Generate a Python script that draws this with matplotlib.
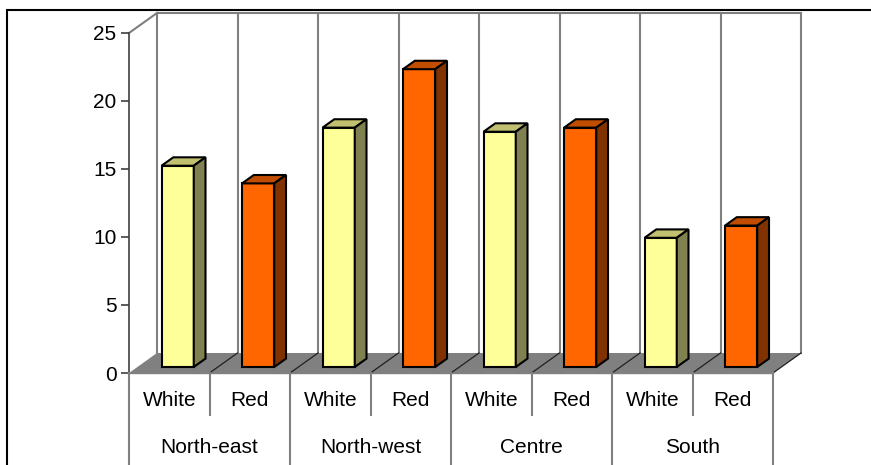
import matplotlib
matplotlib.use("Agg")
import matplotlib.pyplot as plt
from matplotlib.patches import Polygon, Rectangle

plt.rcParams['font.family'] = ['Liberation Sans', 'DejaVu Sans']

regions = ["North-east", "North-west", "Centre", "South"]
wines = ["White", "Red"]
white_vals = [14.8, 17.6, 17.3, 9.5]
red_vals = [13.5, 21.9, 17.6, 10.4]
y_ticks = [0, 5, 10, 15, 20, 25]

# colours: front, top, side
face_cols = {"White": ("#FFFF99", "#C0C070", "#808050"),
             "Red": ("#FF6600", "#C04D00", "#803300")}

W, H = 871, 465
# depth of the 3d box, in data units
DX = 28 / 80.5
DY = 20 / 13.6


def proj(x, y, d):
    return (x + d * DX, y + d * DY)


fig = plt.figure(figsize=(W / 100, H / 100), dpi=100)
ax = fig.add_axes([129 / W, (H - 373) / H, 644 / W, 340 / H])
n = len(regions) * len(wines)
ax.set_xlim(0, n)
ax.set_ylim(0, 25)
for s in ["top", "right", "bottom"]:
    ax.spines[s].set_visible(False)
ax.spines["left"].set_color("#404040")
ax.spines["left"].set_linewidth(1.2)
ax.set_xticks([])
ax.set_yticks(y_ticks)
ax.tick_params(axis="y", length=6, width=1.2, color="#404040", pad=3, labelsize=15)
ax.patch.set_alpha(0)

grey = "#808080"
# back wall and left wall lines
for k in range(n + 1):
    p0, p1 = proj(k, 0, 1), proj(k, 25, 1)
    ax.plot([p0[0], p1[0]], [p0[1], p1[1]], color=grey, lw=1.5, clip_on=False, zorder=1)
p0, p1 = proj(0, 25, 1), proj(n, 25, 1)
ax.plot([p0[0], p1[0]], [p0[1], p1[1]], color=grey, lw=1.5, clip_on=False, zorder=1)
p0, p1 = proj(0, 25, 0), proj(0, 25, 1)
ax.plot([p0[0], p1[0]], [p0[1], p1[1]], color=grey, lw=1.5, clip_on=False, zorder=1)

# floor
floor = Polygon([proj(0, 0, 0), proj(n, 0, 0), proj(n, 0, 1), proj(0, 0, 1)],
                closed=True, fc=grey, ec="none", clip_on=False, zorder=2)
ax.add_patch(floor)
for k in range(1, n + 1):
    p0, p1 = proj(k, 0, 0), proj(k, 0, 1)
    ax.plot([p0[0], p1[0]], [p0[1], p1[1]], color="#202020", lw=0.9, clip_on=False, zorder=3)

# bars
d0, d1 = 0.3, 0.72
hw = 0.2
for g in range(len(regions)):
    for s, wine in enumerate(wines):
        v = white_vals[g] if wine == "White" else red_vals[g]
        xc = 2 * g + s + 0.5
        x0, x1 = xc - hw, xc + hw
        front, top, side = face_cols[wine]
        faces = [
            ([proj(x0, 0, d0), proj(x1, 0, d0), proj(x1, v, d0), proj(x0, v, d0)], front),
            ([proj(x0, v, d0), proj(x1, v, d0), proj(x1, v, d1), proj(x0, v, d1)], top),
            ([proj(x1, 0, d0), proj(x1, 0, d1), proj(x1, v, d1), proj(x1, v, d0)], side),
        ]
        for pts, c in faces:
            ax.add_patch(Polygon(pts, closed=True, fc=c, ec="black", lw=1.5,
                                 joinstyle="miter", clip_on=False, zorder=4))

# category table below the floor
ax.plot([0, n], [0, 0], color=grey, lw=1, clip_on=False, zorder=3)
for k in range(n + 1):
    bottom = -3.09 if k % 2 else -8
    ax.plot([k, k], [0, bottom], color=grey, lw=1.5, clip_on=False, zorder=3)
for i in range(n):
    ax.text(i + 0.5, -2.4, wines[i % 2], ha="center", va="baseline", fontsize=15, clip_on=False)
for g, r in enumerate(regions):
    ax.text(2 * g + 1, -5.9, r, ha="center", va="baseline", fontsize=15, clip_on=False)

# outer chart frame
fig.add_artist(Rectangle((7 / W, -0.1), 1.2, 1 - 10 / H + 0.1, transform=fig.transFigure,
                         fill=False, ec="black", lw=1.5))

fig.savefig("out.png", dpi=100)
